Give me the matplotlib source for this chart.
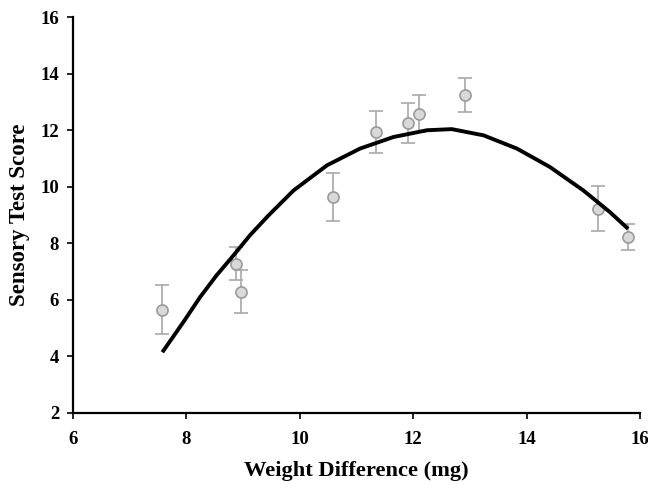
import numpy as np
import matplotlib
matplotlib.use("Agg")
import matplotlib.pyplot as plt

# measured points (weight difference vs sensory score) with error bars
weight = [7.57, 8.87, 8.96, 10.59, 11.34, 11.90, 12.10, 12.92, 15.25, 15.79]
score = [5.65, 7.28, 6.29, 9.62, 11.94, 12.26, 12.59, 13.24, 9.22, 8.22]
err = [0.88, 0.57, 0.76, 0.85, 0.74, 0.71, 0.66, 0.60, 0.80, 0.47]

# fitted curve
curve_x = [7.575, 7.95, 8.24, 8.53, 8.83, 9.12, 9.45, 9.89, 10.48, 11.06,
           11.65, 12.24, 12.68, 13.24, 13.83, 14.41, 15.0, 15.47, 15.79]
curve_y = [4.14, 5.22, 6.09, 6.86, 7.57, 8.28, 8.99, 9.87, 10.76, 11.35,
           11.76, 12.0, 12.04, 11.82, 11.35, 10.70, 9.87, 9.10, 8.51]

x_ticks = [6, 8, 10, 12, 14, 16]
y_ticks = [2, 4, 6, 8, 10, 12, 14, 16]

plt.rcParams['font.family'] = ['Liberation Serif', 'DejaVu Serif']
plt.rcParams['font.weight'] = 'bold'

fig = plt.figure(figsize=(6.48, 4.84), dpi=100)
ax = fig.add_axes([0.1127, 0.1473, 0.875, 0.817])

ax.errorbar(weight, score, yerr=err, fmt='none', ecolor='#a8a8a8',
            elinewidth=1.2, capsize=5, capthick=1.2, zorder=2)
ax.plot(weight, score, 'o', ms=8, mfc='#d9d9d9', mec='#9a9a9a', mew=1.2, zorder=3)
ax.plot(curve_x, curve_y, color='black', lw=2.8, zorder=4,
        solid_joinstyle='round', solid_capstyle='butt')

ax.set_xlim(6, 16)
ax.set_ylim(2, 16)
ax.set_xticks(x_ticks)
ax.set_yticks(y_ticks)
ax.set_xticklabels([str(t) for t in x_ticks], fontsize=13.5, fontweight='bold')
ax.set_yticklabels([str(t) for t in y_ticks], fontsize=13.5, fontweight='bold')

for s in ['top', 'right']:
    ax.spines[s].set_visible(False)
for s in ['left', 'bottom']:
    ax.spines[s].set_linewidth(1.6)
ax.tick_params(direction='out', length=4, width=1.2)
ax.tick_params(axis='x', pad=9)
ax.tick_params(axis='y', pad=6)

ax.set_xlabel('Weight Difference (mg)', fontsize=16.2, fontweight='bold')
ax.set_ylabel('Sensory Test Score', fontsize=16.5, fontweight='bold')
ax.xaxis.set_label_coords(0.5, -0.122)
ax.yaxis.set_label_coords(-0.076, 0.5)

fig.savefig('out.png', dpi=100)
